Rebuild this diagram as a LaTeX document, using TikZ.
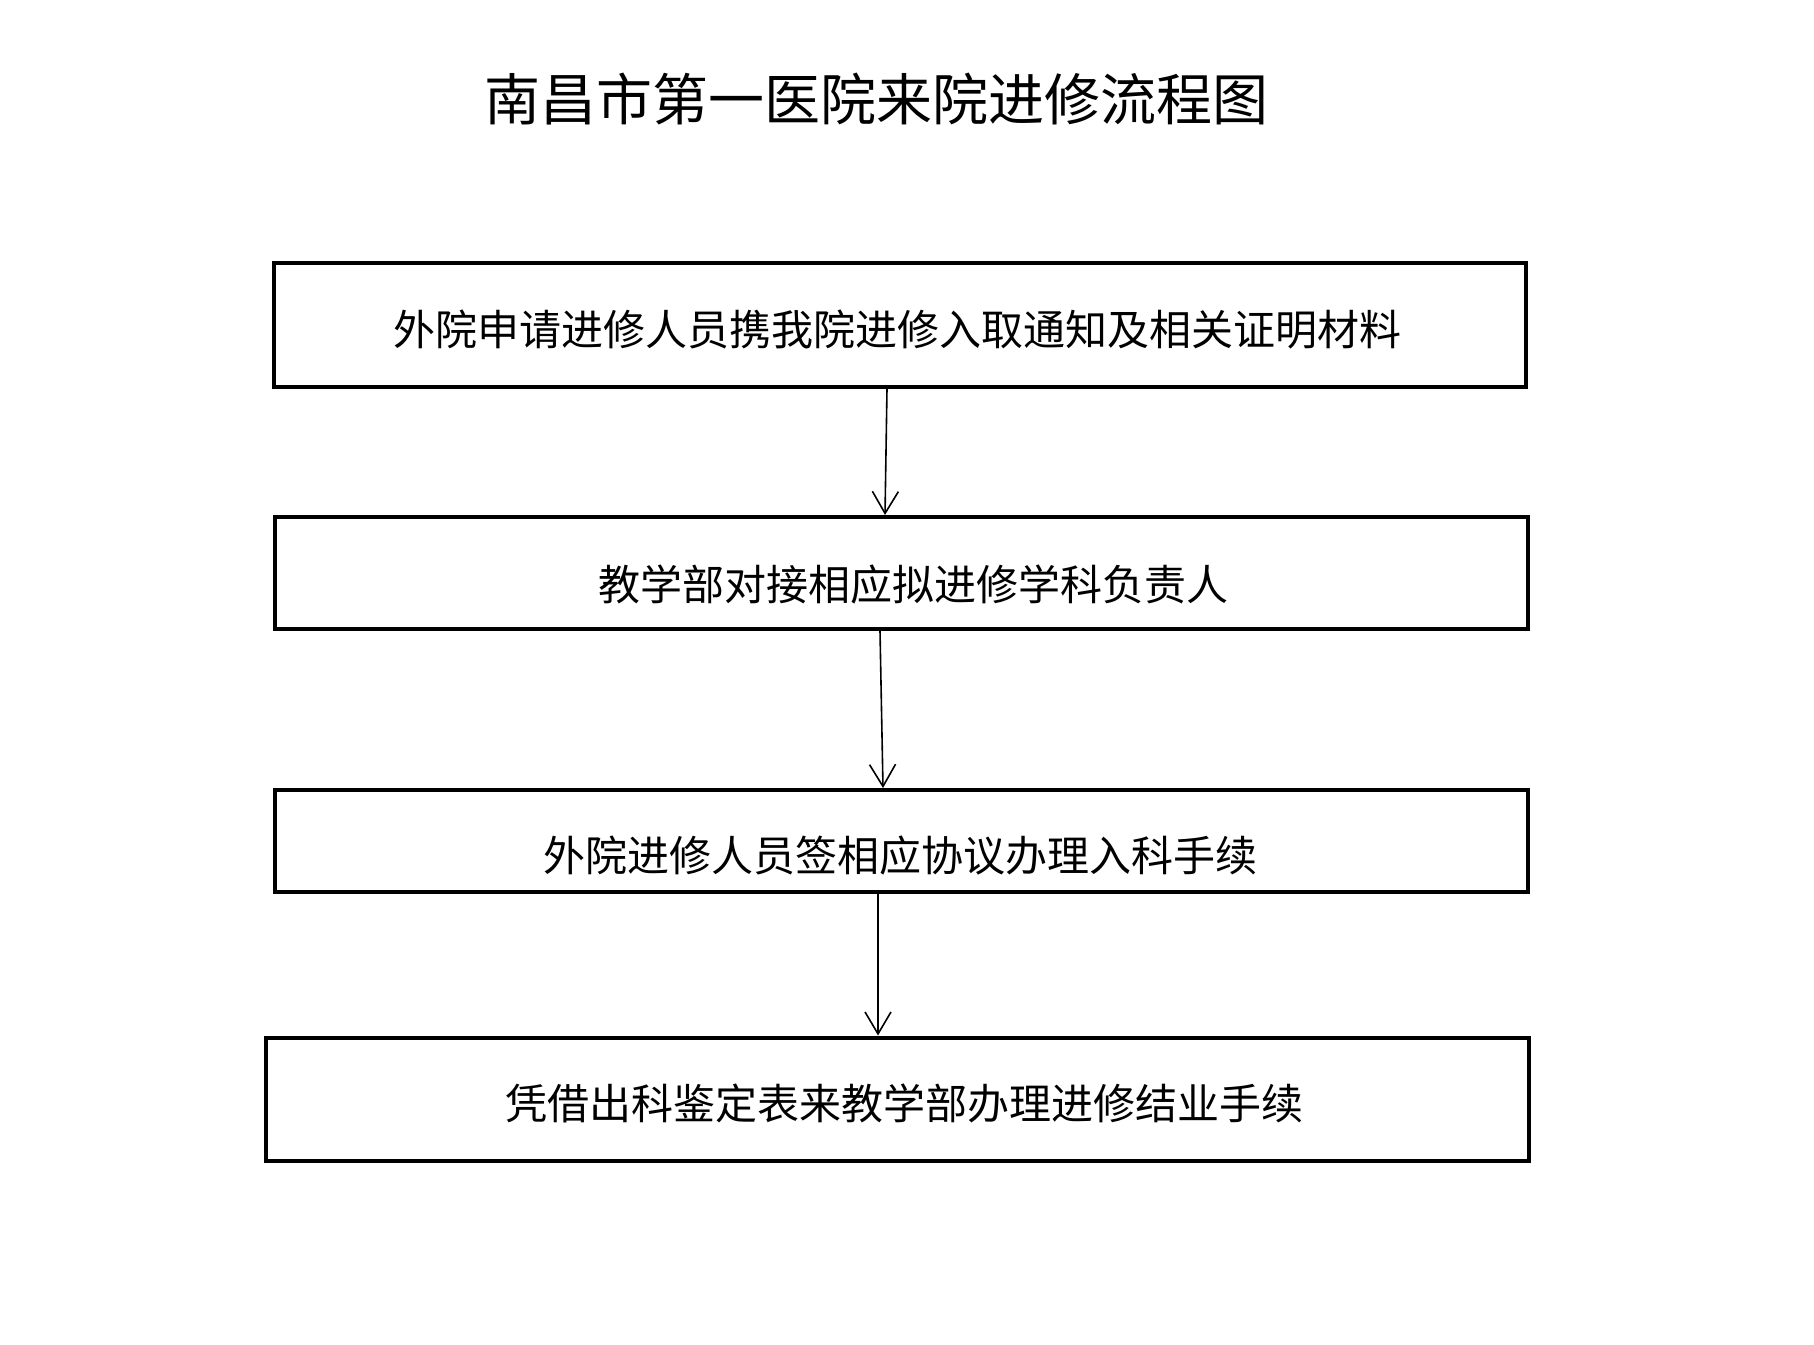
\documentclass[tikz,border=0pt]{standalone}
\usepackage{fontspec}
\setmainfont{Noto Sans CJK SC}
\usetikzlibrary{arrows.meta}
\begin{document}
\begin{tikzpicture}[x=0.5pt,y=-0.5pt,
  box/.style={draw=black, line width=2pt, rectangle, inner sep=0pt, fill=none},
  boxtext/.style={inner sep=0pt, font=\fontsize{21pt}{25pt}\selectfont},
  titletext/.style={inner sep=0pt, font=\fontsize{28pt}{34pt}\selectfont},
  arr/.style={line width=0.8pt, -{Straight Barb[length=11pt,width=13pt,line width=0.8pt]}}]
\useasboundingbox[fill=white] (0,0) rectangle (1814,1344);
\node[titletext] (title) at (876,99) {南昌市第一医院来院进修流程图};
\node[box, minimum width=626pt, minimum height=62pt] (b1) at (899.5,324.5) {};
\node[box, minimum width=626.5pt, minimum height=56pt] (b2) at (901,573) {};
\node[box, minimum width=626.5pt, minimum height=51pt] (b3) at (901,841) {};
\node[box, minimum width=631.5pt, minimum height=61.5pt] (b4) at (897,1099) {};
\node[boxtext] (t1) at (897,330) {外院申请进修人员携我院进修入取通知及相关证明材料};
\node[boxtext] (t2) at (913.5,584) {教学部对接相应拟进修学科负责人};
\node[boxtext] (t3) at (900,856) {外院进修人员签相应协议办理入科手续};
\node[boxtext] (t4) at (904,1103) {凭借出科鉴定表来教学部办理进修结业手续};
\coordinate (a1s) at (887,386);
\coordinate (a1e) at (885,521);
\coordinate (a2s) at (880,629);
\coordinate (a2e) at (883,790);
\coordinate (a3s) at (878,892);
\coordinate (a3e) at (878,1039);
\draw[arr] (b1.south -| a1s) -- (b2.north -| a1e);
\draw[arr] (b2.south -| a2s) -- (b3.north -| a2e);
\draw[arr] (b3.south -| a3s) -- (b4.north -| a3e);
\end{tikzpicture}
\end{document}
